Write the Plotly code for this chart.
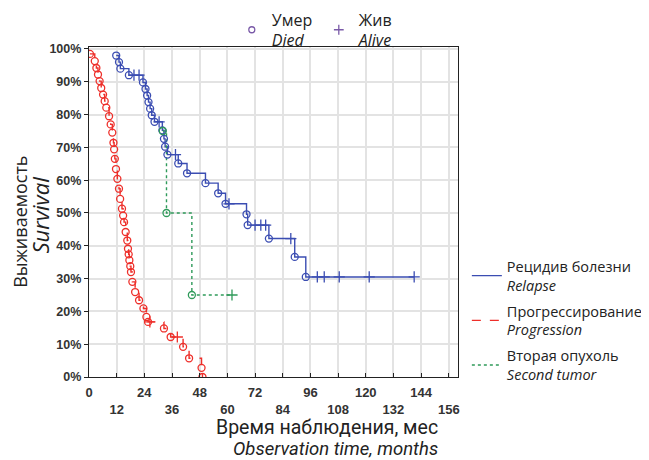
import plotly.graph_objects as go

# ---------------- data ----------------
# Relapse group: time (months), survival (%), event (1 = died, 0 = alive/censored)
relapse_t = [11.8, 13.0, 13.6, 17.3, 19.5, 21.7, 23.4, 24.5, 25.2, 25.8, 26.5, 27.2,
             28.4, 30.4, 31.8, 32.5, 33.0, 34.0, 37.5, 38.7, 42.5, 50.5, 56.0, 59.2,
             60.7, 68.3, 68.8, 72.0, 74.5, 76.6, 78.0, 87.5, 89.2, 94.0, 99.0, 102.0,
             108.5, 121.5, 141.0]
relapse_s = [98.0, 96.0, 94.0, 92.0, 92.0, 92.0, 89.8, 87.8, 85.8, 83.8, 81.8, 79.8,
             77.8, 77.8, 75.2, 72.6, 70.2, 67.8, 67.8, 65.1, 62.1, 59.1, 56.0, 52.8,
             52.8, 49.6, 46.3, 46.3, 46.3, 46.3, 42.2, 42.2, 36.6, 30.5, 30.5, 30.5,
             30.5, 30.5, 30.5]
relapse_e = [1, 1, 1, 1, 0, 0, 1, 1, 1, 1, 1, 1,
             1, 0, 1, 1, 1, 1, 0, 1, 1, 1, 1, 1,
             0, 1, 1, 0, 0, 0, 1, 0, 1, 1, 0, 0,
             0, 0, 0]

# Progression group
progr_t = [0.4, 2.5, 3.2, 3.9, 4.6, 5.3, 6.1, 6.8, 7.5, 8.7, 9.4, 10.1, 10.6, 10.9,
           11.2, 11.7, 12.3, 13.0, 13.5, 14.3, 14.8, 15.2, 15.9, 16.6, 16.9, 17.2,
           17.5, 17.9, 18.2, 18.8, 20.0, 21.7, 23.6, 24.9, 25.6, 26.4, 32.5, 35.4,
           38.3, 40.8, 43.4, 48.8, 49.2]
progr_s = [98.5, 96.3, 94.2, 92.2, 90.2, 88.1, 86.1, 84.1, 82.1, 79.5, 77.0, 74.5, 71.4, 69.4,
           66.5, 63.4, 60.4, 57.4, 54.3, 51.3, 49.2, 47.2, 44.2, 41.6, 39.1, 37.4,
           35.6, 33.8, 32.0, 29.0, 25.9, 23.4, 20.9, 18.3, 16.8, 16.8, 14.8, 12.2,
           12.2, 9.2, 5.7, 2.8, 0.0]
progr_e = [1, 1, 1, 1, 1, 1, 1, 1, 1, 1, 1, 1, 1, 1,
           1, 1, 1, 1, 1, 1, 1, 1, 1, 1, 1, 1,
           1, 1, 1, 1, 1, 1, 1, 1, 1, 0, 1, 1,
           0, 1, 1, 1, 1]

# Second tumor group
second_t = [32.0, 33.6, 44.6, 62.0]
second_s = [75.0, 50.0, 25.0, 25.0]
second_e = [1, 1, 1, 0]

x_ticks = [0, 12, 24, 36, 48, 60, 72, 84, 96, 108, 120, 132, 144, 156]
y_ticks = [0, 10, 20, 30, 40, 50, 60, 70, 80, 90, 100]

group_ru = ['Рецидив болезни', 'Прогрессирование', 'Вторая опухоль']
group_en = ['Relapse', 'Progression', 'Second tumor']
marker_ru = ['Умер', 'Жив']
marker_en = ['Died', 'Alive']

# ---------------- styling ----------------
BLUE = '#3b4db2'
RED = '#ee2f2a'
GREEN = '#2f9a5a'
PURPLE = '#7a5aa8'
FONT = 'Open Sans'
TITLEFONT = 'Roboto'
TICKCOL = '#333333'

# the page adds an 8 px body margin; the figure is sized so the plot lands where the reference has it
W, H = 641, 452

groups = [
    (relapse_t, relapse_s, relapse_e, BLUE, 'solid'),
    (progr_t, progr_s, progr_e, RED, 'dash'),
    (second_t, second_s, second_e, GREEN, 'dot'),
]

fig = go.Figure()

# step lines (Kaplan-Meier curves)
for i, (t, s, e, col, dash) in enumerate(groups):
    fig.add_trace(go.Scatter(
        x=t, y=s, mode='lines', line=dict(color=col, width=1.4, dash=dash, shape='hv'),
        name=f'{group_ru[i]}<br><i>{group_en[i]}</i>', legend='legend',
        legendgroup=f'g{i}', hoverinfo='skip'))

# died (circles) and alive (plus) markers
for i, (t, s, e, col, dash) in enumerate(groups):
    xd = [a for a, ev in zip(t, e) if ev == 1]
    yd = [b for b, ev in zip(s, e) if ev == 1]
    xc = [a for a, ev in zip(t, e) if ev == 0]
    yc = [b for b, ev in zip(s, e) if ev == 0]
    fig.add_trace(go.Scatter(
        x=xd, y=yd, mode='markers', showlegend=False, legendgroup=f'g{i}',
        marker=dict(symbol='circle-open', size=7, color=col, line=dict(width=1.3, color=col))))
    fig.add_trace(go.Scatter(
        x=xc, y=yc, mode='markers', showlegend=False, legendgroup=f'g{i}',
        marker=dict(symbol='cross-thin-open', size=8, color=col, line=dict(width=1.3, color=col))))

# legend entries for the marker meaning
fig.add_trace(go.Scatter(
    x=[None], y=[None], mode='markers', name=f'{marker_ru[0]}<br><i>{marker_en[0]}</i>',
    legend='legend2',
    marker=dict(symbol='circle-open', size=6, color=PURPLE, line=dict(width=1.3, color=PURPLE))))
fig.add_trace(go.Scatter(
    x=[None], y=[None], mode='markers', name=f'{marker_ru[1]}<br><i>{marker_en[1]}</i>',
    legend='legend2',
    marker=dict(symbol='cross-thin-open', size=7, color=PURPLE, line=dict(width=1.3, color=PURPLE))))

fig.update_layout(
    width=W, height=H,
    margin=dict(l=81, r=191, t=39, b=83, autoexpand=False),
    paper_bgcolor='white', plot_bgcolor='white',
    font=dict(family=FONT, color='#222222'),
    xaxis=dict(range=[0, 160], tickvals=x_ticks,
               ticktext=[str(v) if i % 2 == 0 else '<br>' + str(v) for i, v in enumerate(x_ticks)],
               tickfont=dict(family='Liberation Sans', size=13, color=TICKCOL, weight='bold'),
               ticks='inside', ticklen=4, tickcolor='#222', ticklabelstandoff=3,
               showgrid=True, gridcolor='#e3e3e3', gridwidth=1.6,
               showline=True, linecolor='#222', linewidth=1.2, mirror=True, zeroline=False),
    yaxis=dict(range=[0, 100.6], tickvals=y_ticks,
               ticktext=[f'{v}%' for v in y_ticks],
               tickfont=dict(family='Liberation Sans', size=12.5, color=TICKCOL, weight='bold'),
               ticks='outside', ticklen=4, tickcolor='#222',
               showgrid=True, gridcolor='#e3e3e3', gridwidth=1.6,
               showline=True, linecolor='#222', linewidth=1.2, mirror=True, zeroline=False),
    legend=dict(x=1.024, xanchor='left', y=0.384, yanchor='top',
                font=dict(family=FONT, size=14.5, color='#222'),
                bgcolor='rgba(0,0,0,0)', tracegroupgap=4, itemwidth=30),
    legend2=dict(orientation='h', x=0.387, xanchor='left', y=1.135, yanchor='top',
                 font=dict(family=FONT, size=16, color='#222'),
                 bgcolor='rgba(0,0,0,0)', itemwidth=30, entrywidth=42),
    annotations=[
        dict(text='Выживаемость', textangle=-90, xref='paper', yref='paper',
             x=-0.189, y=0.471, xanchor='center', yanchor='middle', showarrow=False,
             font=dict(family=FONT, size=18, color='#222')),
        dict(text='<i>Survival</i>', textangle=-90, xref='paper', yref='paper',
             x=-0.134, y=0.491, xanchor='center', yanchor='middle', showarrow=False,
             font=dict(family=FONT, size=22, color='#222')),
        dict(text='Время наблюдения, мес', xref='paper', yref='paper',
             x=0.951, y=-0.153, xanchor='right', yanchor='middle',
             showarrow=False, font=dict(family=TITLEFONT, size=19.5, color='#222')),
        dict(text='<i>Observation time, months</i>', xref='paper', yref='paper',
             x=0.951, y=-0.218, xanchor='right', yanchor='middle',
             showarrow=False, font=dict(family=TITLEFONT, size=18.5, color='#222')),
    ],
)

fig.write_html('out.html')
